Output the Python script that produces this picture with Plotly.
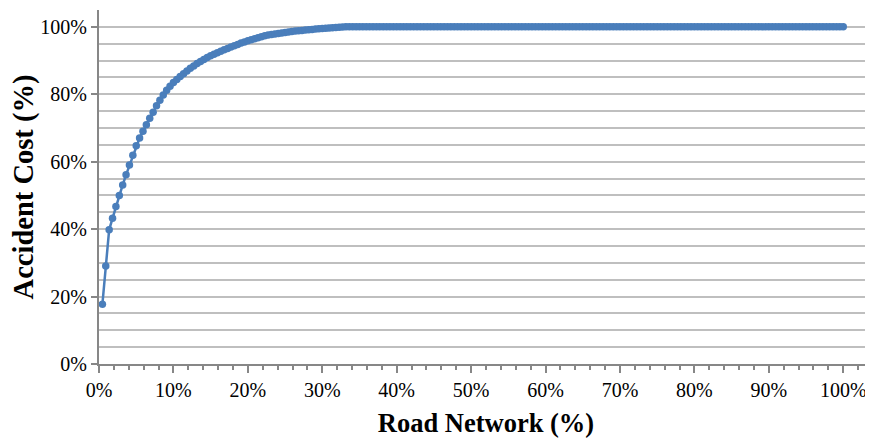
import plotly.graph_objects as go

# Accident cost cumulative share (%) for each road-network segment (ordered)
accident_cost = [
    17.7, 29.1, 39.8, 43.2, 46.7, 50.0, 53.1, 56.1, 59.0, 61.9,
    64.7, 67.0, 69.0, 71.0, 72.9, 74.7, 76.6, 78.2, 79.8, 81.2,
    82.4, 83.5, 84.4, 85.3, 86.1, 86.9, 87.7, 88.4, 89.1, 89.7,
    90.3, 90.9, 91.4, 91.9, 92.3, 92.8, 93.2, 93.6, 94.0, 94.4,
    94.8, 95.2, 95.5, 95.9, 96.2, 96.5, 96.8, 97.1, 97.35, 97.55,
    97.75, 97.9, 98.05, 98.2, 98.35, 98.5, 98.6, 98.75, 98.85, 98.95,
    99.05, 99.15, 99.25, 99.35, 99.45, 99.5, 99.6, 99.65, 99.75, 99.8,
    99.9, 99.95, 100, 100, 100, 100, 100, 100, 100, 100,
    100, 100, 100, 100, 100, 100, 100, 100, 100, 100,
    100, 100, 100, 100, 100, 100, 100, 100, 100, 100,
    100, 100, 100, 100, 100, 100, 100, 100, 100, 100,
    100, 100, 100, 100, 100, 100, 100, 100, 100, 100,
    100, 100, 100, 100, 100, 100, 100, 100, 100, 100,
    100, 100, 100, 100, 100, 100, 100, 100, 100, 100,
    100, 100, 100, 100, 100, 100, 100, 100, 100, 100,
    100, 100, 100, 100, 100, 100, 100, 100, 100, 100,
    100, 100, 100, 100, 100, 100, 100, 100, 100, 100,
    100, 100, 100, 100, 100, 100, 100, 100, 100, 100,
    100, 100, 100, 100, 100, 100, 100, 100, 100, 100,
    100, 100, 100, 100, 100, 100, 100, 100, 100, 100,
    100, 100, 100, 100, 100, 100, 100, 100, 100, 100,
    100, 100, 100, 100, 100, 100, 100, 100, 100, 100,
]
# Road network cumulative share (%) : each segment is an equal share of the network
n_segments = len(accident_cost)
road_network = [100.0 * (i + 1) / n_segments for i in range(n_segments)]

x_title = "Road Network (%)"
y_title = "Accident Cost (%)"

LINE = "#4A7EBB"
GRID = "#BFBFBF"
AXIS = "#878787"
FONT = "Liberation Serif, Times New Roman, serif"

fig = go.Figure()
fig.add_trace(go.Scatter(
    x=road_network, y=accident_cost, mode="lines+markers",
    line=dict(color=LINE, width=2.5),
    marker=dict(color=LINE, size=7.5),
    showlegend=False,
    hoverinfo="skip",
))

# page body has an 8px margin, so the figure is sized/offset accordingly
fig.update_layout(
    width=865, height=430,
    margin=dict(l=91, r=0, t=2, b=74, autoexpand=False),
    plot_bgcolor="white", paper_bgcolor="white",
    font=dict(family=FONT, size=20, color="black"),
    xaxis=dict(
        range=[0, 104], tickmode="linear", tick0=0, dtick=10,
        ticksuffix="%", showgrid=False, zeroline=False, automargin=False,
        showline=True, linecolor=AXIS, linewidth=2,
        ticks="outside", ticklen=7, tickwidth=2, tickcolor=AXIS,
        minor=dict(dtick=2, ticks="outside", ticklen=4, tickwidth=1.5, tickcolor=AXIS, showgrid=False),
        title=dict(text=f"<b>{x_title}</b>", font=dict(size=26.5), standoff=14),
        tickfont=dict(size=20),
    ),
    yaxis=dict(
        range=[0, 105], tickmode="array", tickvals=[0, 20, 40, 60, 80, 100],
        ticktext=["0%", "20%", "40%", "60%", "80%", "100%"],
        showgrid=True, gridcolor=GRID, gridwidth=1.5, zeroline=False, automargin=False,
        showline=True, linecolor=AXIS, linewidth=2,
        ticks="outside", ticklen=6, tickwidth=2, tickcolor=AXIS,
        minor=dict(tickmode="array", tickvals=[5, 10, 15, 25, 30, 35, 45, 50, 55, 65, 70, 75, 85, 90, 95, 105],
                   showgrid=True, gridcolor=GRID, gridwidth=1.5, ticks=""),
        title=dict(text=f"<b>{y_title}</b>", font=dict(size=28.5), standoff=9),
        tickfont=dict(size=20),
    ),
)

fig.write_html("out.html")
